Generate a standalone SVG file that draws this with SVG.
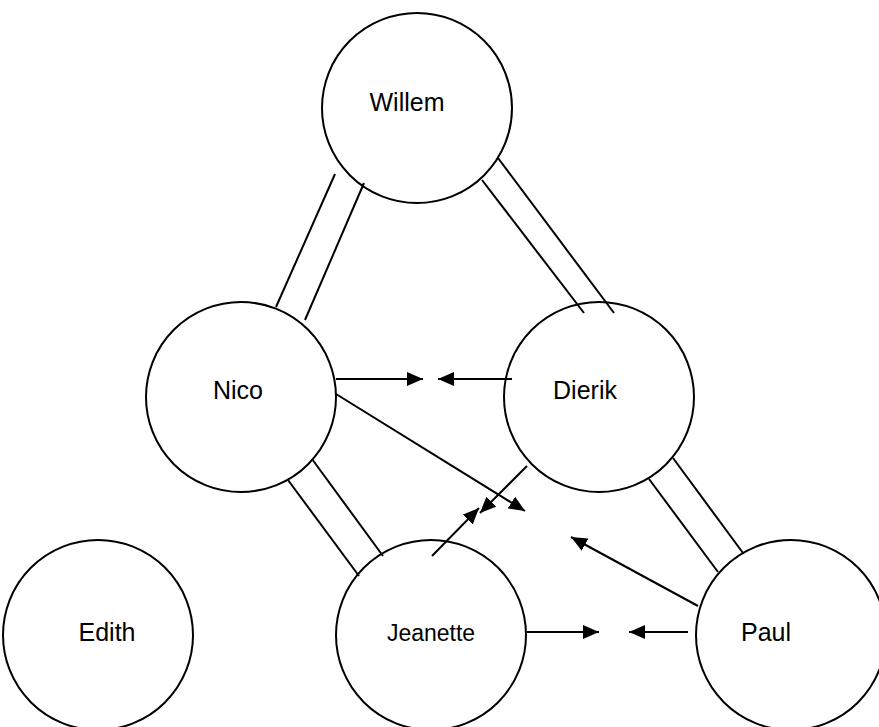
<svg xmlns="http://www.w3.org/2000/svg" width="879" height="727" viewBox="0 0 879 727">
  <style>
    .node circle { fill: #fff; stroke: #000; stroke-width: 2; }
    .node text { font-family: "Liberation Sans", Arial, sans-serif; font-size: 25px; fill: #000; text-anchor: middle; }
    .node text.small { font-size: 23px; }
    .link { stroke: #000; stroke-width: 2; fill: none; }
    .arrow { stroke: #000; stroke-width: 2; fill: none; marker-end: url(#head); }
  </style>
  <defs>
    <marker id="head" markerUnits="userSpaceOnUse" markerWidth="16" markerHeight="14" refX="16" refY="7" orient="auto">
      <path d="M0,0 L16,7 L0,14 Z" fill="#000"/>
    </marker>
  </defs>
  <rect width="879" height="727" fill="#fff"/>

  <g id="nodes">
    <g id="willem" class="node">
      <circle cx="417" cy="108" r="95"/>
      <text x="407" y="111">Willem</text>
    </g>
    <g id="nico" class="node">
      <circle cx="241" cy="397" r="95"/>
      <text x="238" y="399">Nico</text>
    </g>
    <g id="dierik" class="node">
      <circle cx="599" cy="397" r="95"/>
      <text x="585" y="399">Dierik</text>
    </g>
    <g id="edith" class="node">
      <circle cx="98" cy="635" r="95"/>
      <text x="107" y="641">Edith</text>
    </g>
    <g id="jeanette" class="node">
      <circle cx="431" cy="635" r="95"/>
      <text class="small" x="431" y="641">Jeanette</text>
    </g>
    <g id="paul" class="node">
      <circle cx="791" cy="635" r="95"/>
      <text x="766" y="641">Paul</text>
    </g>
  </g>

  <g id="connectors">
    <!-- double lines: Willem-Nico -->
    <line class="link" x1="335" y1="174" x2="276" y2="307"/>
    <line class="link" x1="364" y1="183" x2="305" y2="320"/>
    <!-- double lines: Willem-Dierik -->
    <line class="link" x1="482" y1="180" x2="584" y2="313"/>
    <line class="link" x1="498" y1="158" x2="614" y2="313"/>
    <!-- double lines: Nico-Jeanette -->
    <line class="link" x1="288" y1="480" x2="359" y2="576"/>
    <line class="link" x1="312" y1="459" x2="383" y2="556"/>
    <!-- double lines: Dierik-Paul -->
    <line class="link" x1="649" y1="479" x2="718" y2="572"/>
    <line class="link" x1="673" y1="458" x2="743" y2="553"/>

    <!-- arrows -->
    <line class="arrow" x1="336" y1="379" x2="423" y2="379"/>
    <line class="arrow" x1="512" y1="379" x2="438" y2="379"/>
    <line class="arrow" x1="336" y1="394" x2="525" y2="511"/>
    <line class="arrow" x1="527" y1="466" x2="480" y2="513"/>
    <line class="arrow" x1="432" y1="556" x2="479" y2="508"/>
    <line class="arrow" x1="698" y1="606" x2="571" y2="537"/>
    <line class="arrow" x1="527" y1="632" x2="599" y2="632"/>
    <line class="arrow" x1="688" y1="632" x2="629" y2="632"/>
  </g>
</svg>
